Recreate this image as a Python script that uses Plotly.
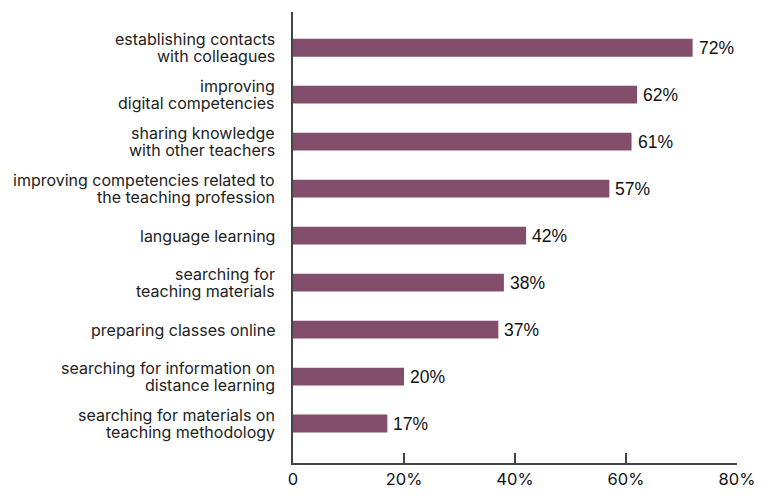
import plotly.graph_objects as go

categories = [
    "establishing contacts<br>with colleagues",
    "improving<br>digital competencies",
    "sharing knowledge<br>with other teachers",
    "improving competencies related to<br>the teaching profession",
    "language learning",
    "searching for<br>teaching materials",
    "preparing classes online",
    "searching for information on<br>distance learning",
    "searching for materials on<br>teaching methodology",
]
values = [72, 62, 61, 57, 42, 38, 37, 20, 17]
x_ticks = [0, 20, 40, 60, 80]
x_tick_labels = ["0", "20%", "40%", "60%", "80%"]

bar_color = "#834E6B"
label_font = "Inter, sans-serif"
value_font = "Liberation Sans, Arial, sans-serif"
line_gap = 17  # px between the two lines of a category label

positions = list(range(len(categories)))

fig = go.Figure(
    go.Bar(
        x=values,
        y=positions,
        orientation="h",
        marker=dict(color=bar_color, line=dict(width=0)),
        width=0.38,
        hoverinfo="skip",
    )
)

annotations = []
# category labels, one annotation per text line for tight line spacing
for pos, cat in zip(positions, categories):
    lines = cat.split("<br>")
    n = len(lines)
    for i, line in enumerate(lines):
        annotations.append(dict(
            x=0, y=pos, xref="x", yref="y",
            text=line, showarrow=False,
            xanchor="right", yanchor="middle",
            xshift=-16, yshift=(n - 1) * line_gap / 2 - i * line_gap,
            font=dict(family=label_font, size=16, color="#222"),
        ))
# value labels at the end of each bar
for pos, v in zip(positions, values):
    annotations.append(dict(
        x=v, y=pos, xref="x", yref="y",
        text=f"{v}%", showarrow=False,
        xanchor="left", yanchor="middle",
        xshift=4,
        font=dict(family=value_font, size=17.5, color="#111"),
    ))

fig.update_layout(
    width=767,
    height=501,
    margin=dict(l=293, r=23, t=12, b=21),
    plot_bgcolor="white",
    paper_bgcolor="white",
    showlegend=False,
    annotations=annotations,
    xaxis=dict(
        range=[0, 80],
        tickvals=x_ticks,
        ticktext=x_tick_labels,
        ticks="inside",
        ticklen=10,
        tickwidth=1.5,
        tickcolor="#444",
        showline=True,
        linecolor="#444",
        linewidth=1.5,
        showgrid=False,
        zeroline=False,
        tickfont=dict(family=label_font, size=16.5, color="#111"),
    ),
    yaxis=dict(
        range=[8.84, -0.76],
        tickvals=positions,
        showticklabels=False,
        ticks="",
        showline=True,
        linecolor="#444",
        linewidth=1.5,
        showgrid=False,
        zeroline=False,
    ),
)

fig.write_html("out.html")
